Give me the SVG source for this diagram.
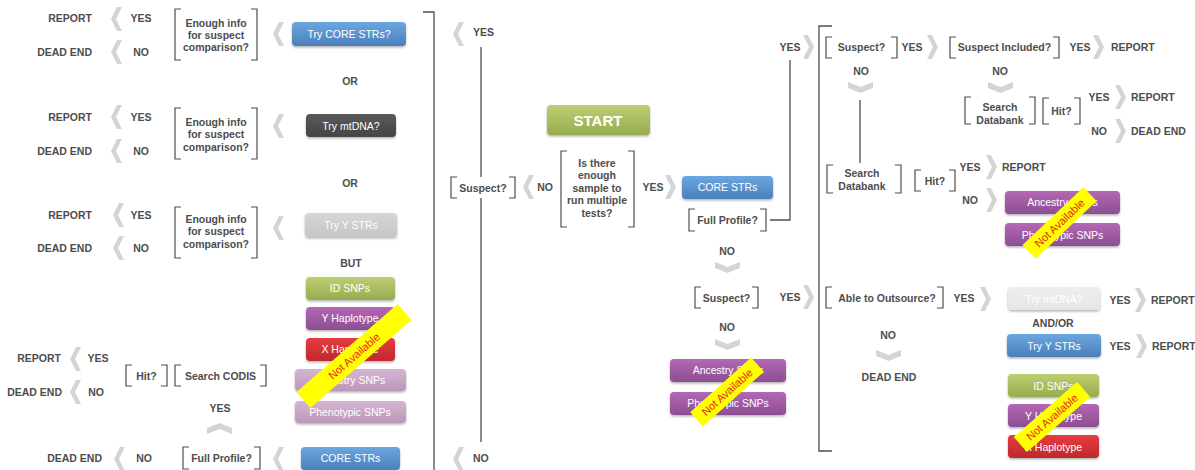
<svg xmlns="http://www.w3.org/2000/svg" xmlns:xlink="http://www.w3.org/1999/xlink" width="1195" height="470" viewBox="0 0 1195 470">
<style>
.t{font-family:"Liberation Sans",Arial,sans-serif;font-weight:bold;font-size:10.5px;fill:#4d4d4d}
.m{text-anchor:middle}
.e{text-anchor:end}
.bt{font-family:"Liberation Sans",Arial,sans-serif;font-size:10.5px;fill:#fff;text-anchor:middle}
.br{fill:none;stroke:#4d4d4d;stroke-width:1.2}
.ln{fill:none;stroke:#4d4d4d;stroke-width:1.3}
.ch{fill:#d4d4d4}
.na{fill:#ffff00}
.nt{font-family:"Liberation Sans",Arial,sans-serif;font-size:11px;fill:#ee1c24;text-anchor:middle}
.btn{filter:url(#sh)}
</style>
<defs>
<filter id="sh" x="-10%" y="-20%" width="120%" height="160%"><feDropShadow dx="0" dy="1.5" stdDeviation="1" flood-color="#000" flood-opacity="0.3"/></filter>
<linearGradient id="gBlue" x1="0" y1="0" x2="0" y2="1"><stop offset="0" stop-color="#6ba7e0"/><stop offset="1" stop-color="#4a7fba"/></linearGradient>
<linearGradient id="gDark" x1="0" y1="0" x2="0" y2="1"><stop offset="0" stop-color="#5a5a5a"/><stop offset="1" stop-color="#444"/></linearGradient>
<linearGradient id="gLGray" x1="0" y1="0" x2="0" y2="1"><stop offset="0" stop-color="#d6d6d6"/><stop offset="1" stop-color="#c6c6c6"/></linearGradient>
<linearGradient id="gVLGray" x1="0" y1="0" x2="0" y2="1"><stop offset="0" stop-color="#eeeeee"/><stop offset="1" stop-color="#e6e6e6"/></linearGradient>
<linearGradient id="gGreen" x1="0" y1="0" x2="0" y2="1"><stop offset="0" stop-color="#bccf72"/><stop offset="1" stop-color="#97ac4f"/></linearGradient>
<linearGradient id="gPurple" x1="0" y1="0" x2="0" y2="1"><stop offset="0" stop-color="#b468b4"/><stop offset="1" stop-color="#8c4e92"/></linearGradient>
<linearGradient id="gRed" x1="0" y1="0" x2="0" y2="1"><stop offset="0" stop-color="#e63c41"/><stop offset="1" stop-color="#c0282d"/></linearGradient>
<linearGradient id="gMauve" x1="0" y1="0" x2="0" y2="1"><stop offset="0" stop-color="#d6b4d3"/><stop offset="1" stop-color="#bc96b9"/></linearGradient>
<polygon id="chL" class="ch" points="6,-12 11,-12 5,0 11,12 6,12 0,0"/>
<polygon id="chR" class="ch" points="-6,-12 -11,-12 -5,0 -11,12 -6,12 0,0"/>
<polygon id="chD" class="ch" points="0,0 12.5,5 25,0 25,6 12.5,11 0,6"/>
<polygon id="chU" class="ch" points="0,11 12.5,6 25,11 25,5 12.5,0 0,5"/>
</defs>
<rect width="1195" height="470" fill="#fff"/>

<g id="connectors">
<path class="ln" d="M423 12 H434 V470"/>
<path class="ln" d="M481 47 V442"/>
<path class="ln" d="M770 220 H790 V60"/>
<path class="ln" d="M832 26 H819 V451 H832"/>
<path class="ln" d="M860 100 V163"/>
<!-- left chevrons -->
<use xlink:href="#chL" x="111" y="19"/>
<use xlink:href="#chL" x="111" y="52"/>
<use xlink:href="#chL" x="273" y="34"/>
<use xlink:href="#chL" x="111" y="117"/>
<use xlink:href="#chL" x="111" y="151"/>
<use xlink:href="#chL" x="273" y="126"/>
<use xlink:href="#chL" x="113" y="215"/>
<use xlink:href="#chL" x="113" y="248"/>
<use xlink:href="#chL" x="273" y="228"/>
<use xlink:href="#chL" x="70" y="359"/>
<use xlink:href="#chL" x="70" y="392"/>
<use xlink:href="#chU" x="207" y="423"/>
<use xlink:href="#chL" x="114" y="459"/>
<use xlink:href="#chL" x="273" y="459"/>
<use xlink:href="#chL" x="453" y="34"/>
<use xlink:href="#chL" x="453" y="459"/>
<use xlink:href="#chL" x="523" y="187"/>
<!-- middle -->
<use xlink:href="#chR" x="676" y="187"/>
<use xlink:href="#chR" x="814" y="47"/>
<use xlink:href="#chD" x="715" y="262"/>
<use xlink:href="#chR" x="814" y="297"/>
<use xlink:href="#chD" x="715" y="339"/>
<!-- right -->
<use xlink:href="#chR" x="938" y="47"/>
<use xlink:href="#chR" x="1104" y="47"/>
<use xlink:href="#chD" x="848" y="82"/>
<use xlink:href="#chD" x="988" y="82"/>
<use xlink:href="#chR" x="1126" y="97"/>
<use xlink:href="#chR" x="1126" y="131"/>
<use xlink:href="#chR" x="997" y="167"/>
<use xlink:href="#chR" x="997" y="200"/>
<use xlink:href="#chR" x="991" y="299"/>
<use xlink:href="#chR" x="1146" y="300"/>
<use xlink:href="#chR" x="1147" y="346"/>
<use xlink:href="#chD" x="876" y="350"/>
</g>

<!-- ===== LEFT COLUMN ===== -->
<g id="labels-left">
<text class="t e" x="92" y="22">REPORT</text>
<text class="t m" x="141" y="22">YES</text>
<text class="t e" x="92" y="56">DEAD END</text>
<text class="t m" x="141" y="56">NO</text>
<text class="t e" x="92" y="121">REPORT</text>
<text class="t m" x="141" y="121">YES</text>
<text class="t e" x="92" y="155">DEAD END</text>
<text class="t m" x="141" y="155">NO</text>
<text class="t e" x="92" y="219">REPORT</text>
<text class="t m" x="141" y="219">YES</text>
<text class="t e" x="92" y="252">DEAD END</text>
<text class="t m" x="141" y="252">NO</text>
<text class="t m" x="350" y="85">OR</text>
<text class="t m" x="350" y="187">OR</text>
<text class="t m" x="351" y="267">BUT</text>
<text class="t e" x="61" y="362">REPORT</text>
<text class="t m" x="98" y="362">YES</text>
<text class="t e" x="62" y="396">DEAD END</text>
<text class="t m" x="96" y="396">NO</text>
<text class="t m" x="220" y="412">YES</text>
<text class="t e" x="102" y="462">DEAD END</text>
<text class="t m" x="144" y="462">NO</text>
<text class="t" x="473" y="36">YES</text>
<text class="t" x="473" y="462">NO</text>
<text class="t m" x="545" y="191">NO</text>
</g>

<g id="q-enough1">
<path class="br" d="M181 9 H175 V60 H181 M251 9 H257 V60 H251"/>
<text class="t m" x="216" y="27">Enough info</text>
<text class="t m" x="216" y="39">for suspect</text>
<text class="t m" x="216" y="51">comparison?</text>
</g>
<g id="try-core">
<rect class="btn" x="292" y="22" width="114" height="24" rx="4" fill="url(#gBlue)"/>
<text class="bt" x="349" y="38">Try CORE STRs?</text>
</g>

<g id="q-enough2">
<path class="br" d="M181 108 H175 V159 H181 M251 108 H257 V159 H251"/>
<text class="t m" x="216" y="126">Enough info</text>
<text class="t m" x="216" y="138">for suspect</text>
<text class="t m" x="216" y="151">comparison?</text>
</g>
<g id="try-mtdna">
<rect class="btn" x="306" y="114" width="90" height="23" rx="4" fill="url(#gDark)"/>
<text class="bt" x="351" y="129.5">Try mtDNA?</text>
</g>

<g id="q-enough3">
<path class="br" d="M181 207 H175 V258 H181 M251 207 H257 V258 H251"/>
<text class="t m" x="216" y="222.5">Enough info</text>
<text class="t m" x="216" y="235">for suspect</text>
<text class="t m" x="216" y="247.5">comparison?</text>
</g>
<g id="try-ystrs">
<rect class="btn" x="305" y="213" width="92" height="24" rx="4" fill="url(#gLGray)"/>
<text class="bt" x="351" y="229">Try Y STRs</text>
</g>

<g id="id-snps-l">
<rect class="btn" x="306" y="277" width="89" height="23" rx="4" fill="url(#gGreen)"/>
<text class="bt" x="350" y="292">ID SNPs</text>
</g>
<g id="y-hap-l">
<rect class="btn" x="306" y="307" width="89" height="23" rx="4" fill="url(#gPurple)"/>
<text class="bt" x="350" y="322">Y Haplotype</text>
</g>
<g id="x-hap-l">
<rect class="btn" x="306" y="338" width="89" height="23" rx="4" fill="url(#gRed)"/>
<text class="bt" x="350" y="353">X Haplotype</text>
</g>
<g id="anc-l">
<rect class="btn" x="295" y="369" width="111" height="22" rx="4" fill="url(#gMauve)"/>
<text class="bt" x="350" y="384">Ancestry SNPs</text>
</g>
<g id="phe-l">
<rect class="btn" x="295" y="401" width="111" height="22" rx="4" fill="url(#gMauve)"/>
<text class="bt" x="350" y="416">Phenotypic SNPs</text>
</g>
<g id="na-l" transform="translate(354 356) rotate(-41)">
<rect class="na" x="-67" y="-10.5" width="134" height="21"/>
<text class="nt" x="0" y="4">Not Available</text>
</g>

<g id="hit-l">
<path class="br" d="M132 365 H126 V386 H132 M161 365 H167 V386 H161"/>
<text class="t m" x="146.5" y="380">Hit?</text>
</g>
<g id="search-codis">
<path class="br" d="M181 365 H175 V386 H181 M260 365 H266 V386 H260"/>
<text class="t m" x="220.5" y="380">Search CODIS</text>
</g>
<g id="full-profile-l">
<path class="br" d="M189 447 H183 V469 H189 M254 447 H260 V469 H254"/>
<text class="t m" x="221.5" y="462">Full Profile?</text>
</g>
<g id="core-l">
<rect class="btn" x="301" y="447" width="99" height="23" rx="4" fill="url(#gBlue)"/>
<text class="bt" x="350.5" y="462">CORE STRs</text>
</g>

<!-- ===== MIDDLE ===== -->
<g id="suspect-m">
<rect x="451" y="177" width="64" height="21" fill="#fff"/>
<path class="br" d="M457 177 H451 V198 H457 M509 177 H515 V198 H509"/>
<text class="t m" x="483" y="191.5">Suspect?</text>
</g>
<g id="start">
<rect class="btn" x="547" y="105" width="103" height="30" rx="4" fill="url(#gGreen)"/>
<text x="598" y="126" style="font-family:'Liberation Sans',Arial,sans-serif;font-weight:bold;font-size:15px;fill:#fff;text-anchor:middle">START</text>
</g>
<g id="q-sample">
<path class="br" d="M567 151 H561 V227 H567 M628 151 H634 V227 H628"/>
<text class="t m" x="597" y="166.5">Is there</text>
<text class="t m" x="597" y="179">enough</text>
<text class="t m" x="597" y="191.5">sample to</text>
<text class="t m" x="597" y="204">run multiple</text>
<text class="t m" x="597" y="216.5">tests?</text>
</g>
<g id="labels-mid">
<text class="t m" x="653" y="191">YES</text>
<text class="t m" x="790" y="51">YES</text>
<text class="t m" x="727" y="255">NO</text>
<text class="t m" x="790" y="301">YES</text>
<text class="t m" x="727" y="331">NO</text>
</g>
<g id="core-m">
<rect class="btn" x="682" y="176" width="91" height="23" rx="4" fill="url(#gBlue)"/>
<text class="bt" x="727.5" y="191">CORE STRs</text>
</g>
<g id="full-profile-m">
<path class="br" d="M695 209 H689 V231 H695 M760 209 H766 V231 H760"/>
<text class="t m" x="727.5" y="224">Full Profile?</text>
</g>
<g id="suspect-m2">
<path class="br" d="M701 287 H695 V308 H701 M752 287 H758 V308 H752"/>
<text class="t m" x="726.5" y="302">Suspect?</text>
</g>
<g id="anc-m">
<rect class="btn" x="670" y="359" width="116" height="23" rx="4" fill="url(#gPurple)"/>
<text class="bt" x="728" y="374">Ancestry SNPs</text>
</g>
<g id="phe-m">
<rect class="btn" x="670" y="392" width="116" height="23" rx="4" fill="url(#gPurple)"/>
<text class="bt" x="728" y="407">Phenotypic SNPs</text>
</g>
<g id="na-m" transform="translate(727 392) rotate(-42)">
<rect class="na" x="-41" y="-9.5" width="82" height="19"/>
<text class="nt" x="0" y="4">Not Available</text>
</g>

<!-- ===== RIGHT ===== -->
<g id="labels-right">
<text class="t m" x="912" y="51">YES</text>
<text class="t m" x="1080" y="51">YES</text>
<text class="t" x="1111" y="51">REPORT</text>
<text class="t m" x="861" y="75">NO</text>
<text class="t m" x="1000" y="75">NO</text>
<text class="t m" x="1099" y="101">YES</text>
<text class="t" x="1131" y="101">REPORT</text>
<text class="t m" x="1099" y="135">NO</text>
<text class="t" x="1131" y="135">DEAD END</text>
<text class="t m" x="970" y="171">YES</text>
<text class="t" x="1002" y="171">REPORT</text>
<text class="t m" x="970" y="204">NO</text>
<text class="t m" x="964" y="302">YES</text>
<text class="t m" x="1120" y="304">YES</text>
<text class="t" x="1151" y="304">REPORT</text>
<text class="t m" x="1053" y="327">AND/OR</text>
<text class="t m" x="1120" y="350">YES</text>
<text class="t" x="1152" y="350">REPORT</text>
<text class="t m" x="888" y="339">NO</text>
<text class="t m" x="889" y="381">DEAD END</text>
</g>
<g id="suspect-r">
<path class="br" d="M832 37 H826 V58 H832 M891 37 H897 V58 H891"/>
<text class="t m" x="861.5" y="51">Suspect?</text>
</g>
<g id="suspect-included">
<path class="br" d="M956 37 H950 V58 H956 M1053 37 H1059 V58 H1053"/>
<text class="t m" x="1004.5" y="51">Suspect Included?</text>
</g>
<g id="search-db1">
<path class="br" d="M971 97 H965 V124 H971 M1029 97 H1035 V124 H1029"/>
<text class="t m" x="1000" y="111">Search</text>
<text class="t m" x="1000" y="124">Databank</text>
</g>
<g id="hit-r1">
<path class="br" d="M1049 98 H1043 V124 H1049 M1074 98 H1080 V124 H1074"/>
<text class="t m" x="1061.5" y="115">Hit?</text>
</g>
<g id="search-db2">
<path class="br" d="M833 165 H827 V193 H833 M895 165 H901 V193 H895"/>
<text class="t m" x="862" y="177">Search</text>
<text class="t m" x="862" y="190">Databank</text>
</g>
<g id="hit-r2">
<path class="br" d="M921 170 H915 V191 H921 M949 170 H955 V191 H949"/>
<text class="t m" x="935" y="185">Hit?</text>
</g>
<g id="anc-r">
<rect class="btn" x="1005" y="191" width="115" height="23" rx="4" fill="url(#gPurple)"/>
<text class="bt" x="1062.5" y="206">Ancestry SNPs</text>
</g>
<g id="phe-r">
<rect class="btn" x="1005" y="223" width="115" height="23" rx="4" fill="url(#gPurple)"/>
<text class="bt" x="1062.5" y="239">Phenotypic SNPs</text>
</g>
<g id="na-r1" transform="translate(1059.5 223) rotate(-43.5)">
<rect class="na" x="-42" y="-9.5" width="84" height="19"/>
<text class="nt" x="0" y="4">Not Available</text>
</g>
<g id="outsource">
<path class="br" d="M832 287 H826 V308 H832 M937 287 H943 V308 H937"/>
<text class="t m" x="887" y="302">Able to Outsource?</text>
</g>
<g id="try-mtdna-r">
<rect class="btn" x="1008" y="287" width="92" height="23" rx="4" fill="url(#gVLGray)"/>
<text class="bt" x="1054" y="303">Try mtDNA?</text>
</g>
<g id="try-ystrs-r">
<rect class="btn" x="1007" y="334" width="94" height="23" rx="4" fill="url(#gBlue)"/>
<text class="bt" x="1054" y="350">Try Y STRs</text>
</g>
<g id="id-snps-r">
<rect class="btn" x="1008" y="374" width="91" height="23" rx="4" fill="url(#gGreen)"/>
<text class="bt" x="1053.5" y="390">ID SNPs</text>
</g>
<g id="y-hap-r">
<rect class="btn" x="1008" y="404" width="91" height="23" rx="4" fill="url(#gPurple)"/>
<text class="bt" x="1053.5" y="420">Y Haplotype</text>
</g>
<g id="x-hap-r">
<rect class="btn" x="1008" y="435" width="91" height="23" rx="4" fill="url(#gRed)"/>
<text class="bt" x="1053.5" y="451">X Haplotype</text>
</g>
<g id="na-r2" transform="translate(1052 417) rotate(-41)">
<rect class="na" x="-42" y="-10" width="84" height="20"/>
<text class="nt" x="0" y="4">Not Available</text>
</g>
</svg>
